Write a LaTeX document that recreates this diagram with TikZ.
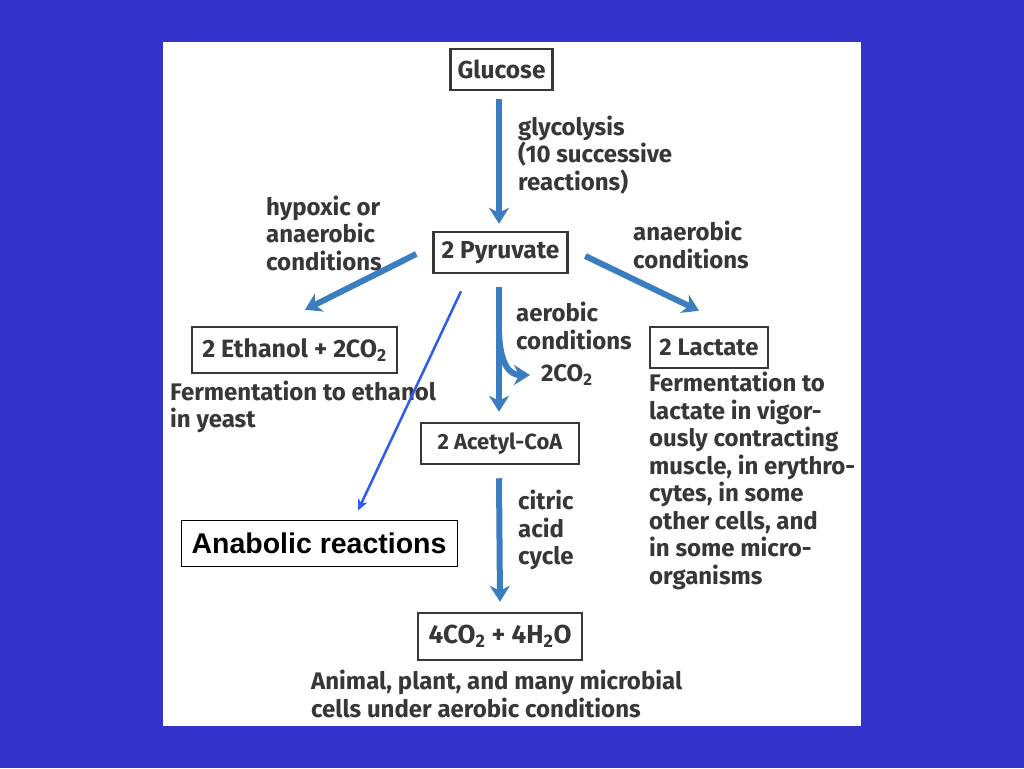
\documentclass[tikz,border=0pt]{standalone}
\usepackage{fontspec}
\setmainfont{Fira Sans}
\newfontfamily\arialfont{Liberation Sans}
\usetikzlibrary{arrows.meta}
\definecolor{slidebg}{RGB}{51,51,204}
\definecolor{flowblue}{RGB}{58,125,192}
\definecolor{anablue}{RGB}{48,90,240}
\definecolor{inkgray}{RGB}{55,55,55}
\newcommand{\chemsub}[1]{\textsubscript{#1}}
\tikzset{
  species/.style={draw=inkgray, line width=2.5pt, text=inkgray, inner sep=0pt,
    font=\bfseries\fontsize{24.5}{26}\selectfont},
  note/.style={anchor=west, align=left, text=inkgray, inner sep=0pt,
    font=\bfseries\fontsize{24}{27.5}\selectfont},
  flow/.style={draw=flowblue, line width=6pt,
    -{Stealth[length=16pt,width=20pt,inset=5pt]}},
}
\begin{document}
\begin{tikzpicture}[x=1pt,y=-1pt]
    \fill[slidebg] (0,0) rectangle (1024,768);
    \fill[white] (163,42) rectangle (861,726);
    % species boxes
    \node[species, minimum width=102pt, minimum height=41pt] (glc) at (501.5,69.5) {Glucose};
    \node[species, minimum width=134pt, minimum height=41pt] (pyr) at (500.5,252.5) {2 Pyruvate};
    \node[species, minimum width=205pt, minimum height=46pt, font=\bfseries\fontsize{25}{26}\selectfont] (eth) at (294.5,350) {2 Ethanol + 2CO\chemsub{2}};
    \node[species, minimum width=118pt, minimum height=41pt, font=\bfseries\fontsize{24}{26}\selectfont] (lac) at (709,347.5) {2 Lactate};
    \node[species, minimum width=158pt, minimum height=41pt, font=\bfseries\fontsize{22}{23}\selectfont] (aco) at (500,443.5) {2 Acetyl-CoA};
    \node[species, minimum width=164pt, minimum height=47pt, font=\bfseries\fontsize{26}{27}\selectfont] (co) at (500,636.5) {4CO\chemsub{2} + 4H\chemsub{2}O};
    \node[draw=black, line width=1pt, minimum width=276pt, minimum height=46pt, inner sep=0pt,
      font=\arialfont\bfseries\fontsize{28.5}{30}\selectfont] (ana) at (319,543) {Anabolic reactions};
    % labels
    \node[note] (glylbl) at (518,155) {glycolysis\\(10 successive\\reactions)};
    \node[note] (hyplbl) at (266,233) {hypoxic or\\anaerobic\\conditions};
    \node[note] (anlbl) at (633,245) {anaerobic\\conditions};
    \node[note] (aerlbl) at (516,326) {aerobic\\conditions};
    \node[note] (co2) at (541,375) {2CO\chemsub{2}};
    \node[note] (citlbl) at (518,530) {citric\\acid\\cycle};
    \node[note] (ethtxt) at (170,407) {Fermentation to ethanol\\in yeast};
    \node[note] (lactxt) at (649,481) {Fermentation to\\lactate in vigor-\\ously contracting\\muscle, in erythro-\\cytes, in some\\other cells, and\\in some micro-\\organisms};
    \node[note] (cotxt) at (311,694) {Animal, plant, and many microbial\\cells under aerobic conditions};
    % pathways
    \draw[flow] ([xshift=-2.5pt,yshift=-8pt]glc.south) -- ([xshift=-1.5pt,yshift=7pt]pyr.north);
    \draw[flow] ([xshift=-16pt,yshift=-1.5pt]pyr.west) -- ([xshift=10.5pt,yshift=16pt]eth.north);
    \draw[flow] ([xshift=16.5pt,yshift=-3.5pt]pyr.east) -- ([xshift=-10pt,yshift=15pt]lac.north);
    \draw[flow] ([xshift=-1.5pt,yshift=-13pt]pyr.south) -- ([xshift=-1pt,yshift=10pt]aco.north);
    \coordinate (branch) at (499,332);
    \draw[flow] (branch) .. controls (500,365) and (510,375) .. ([xshift=-11pt]co2.west);
    \draw[flow] ([xshift=-1pt,yshift=-13pt]aco.south) -- ([yshift=10pt]co.north);
    % anabolic branch
    \draw[anablue, line width=2.5pt, -{Stealth[length=11pt,width=10pt,inset=3pt]}]
      ([xshift=-39.5pt,yshift=-17pt]pyr.south) -- ([xshift=39pt,yshift=9pt]ana.north);
\end{tikzpicture}
\end{document}
